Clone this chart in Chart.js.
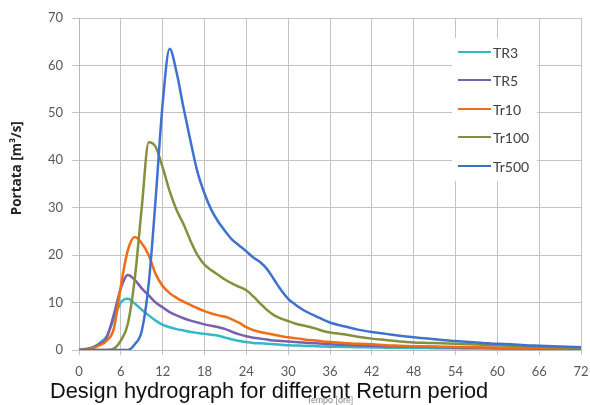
<!DOCTYPE html>
<html>
<head>
<meta charset="utf-8">
<script src="https://cdn.jsdelivr.net/npm/chart.js@4.4.1/dist/chart.umd.min.js"></script>
<style>
    body { margin: 0; background: #fff; }
    #wrap { position: relative; width: 590px; height: 405px; }
    #caption {
        position: absolute; left: 50px; top: 380px;
        font-family: "Liberation Sans", Arial, sans-serif;
        font-size: 21.8px; line-height: 1; color: #111; white-space: nowrap;
    }
</style>
</head>
<body>
<div id="wrap">
    <canvas id="hydroChart" width="590" height="405"></canvas>
    <div id="caption">Design hydrograph for different Return period</div>
</div>
<script>
// Time axis (hours) and discharge values
const hours = [0, 1, 2, 3, 4, 5, 6, 7, 8, 9, 10, 11, 12, 13, 14, 15, 16, 17, 18, 19,
    20, 21, 22, 23, 24, 25, 26, 27, 28, 29, 30, 31, 32, 33, 34, 35, 36,
    38, 40, 42, 44, 46, 48, 50, 52, 54, 56, 58, 60, 62, 64, 66, 68, 70, 72];

const tr3 = [0, 0.2, 0.6, 1.5, 3.0, 6.5, 10.0, 10.8, 9.8, 8.5, 7.3, 6.2, 5.3, 4.8, 4.4, 4.1, 3.8, 3.6, 3.4, 3.2,
    3.0, 2.6, 2.2, 1.9, 1.7, 1.5, 1.4, 1.3, 1.2, 1.1, 1.0, 0.95, 0.9, 0.85, 0.8, 0.75, 0.7,
    0.65, 0.6, 0.55, 0.5, 0.45, 0.42, 0.4, 0.37, 0.35, 0.32, 0.3, 0.28, 0.26, 0.24, 0.22, 0.2, 0.2, 0.2];

const tr5 = [0, 0.2, 0.5, 1.3, 2.7, 7.5, 13.0, 15.8, 14.8, 13.0, 11.5, 10.0, 9.0, 8.0, 7.3, 6.7, 6.2, 5.8, 5.4, 5.1,
    4.8, 4.4, 3.8, 3.3, 2.9, 2.6, 2.4, 2.2, 2.0, 1.9, 1.8, 1.7, 1.6, 1.5, 1.4, 1.3, 1.2,
    1.1, 1.0, 0.9, 0.8, 0.75, 0.7, 0.65, 0.6, 0.55, 0.5, 0.45, 0.4, 0.38, 0.35, 0.33, 0.3, 0.3, 0.3];

const tr10 = [0, 0.1, 0.4, 1.0, 2.0, 4.5, 13.5, 21.0, 23.8, 22.5, 20.0, 16.0, 13.5, 12.0, 11.0, 10.2, 9.5, 8.8, 8.2, 7.7,
    7.3, 7.0, 6.4, 5.7, 4.8, 4.2, 3.8, 3.5, 3.2, 2.9, 2.7, 2.5, 2.3, 2.1, 2.0, 1.8, 1.7,
    1.5, 1.3, 1.2, 1.0, 0.9, 0.8, 0.75, 0.7, 0.65, 0.6, 0.55, 0.5, 0.5, 0.45, 0.45, 0.4, 0.4, 0.4];

const tr100 = [0, 0, 0, 0, 0, 0.3, 2.0, 5.5, 15.0, 30.0, 43.8, 42.8, 38.5, 33.5, 29.5, 26.5, 23.0, 20.0, 18.0, 16.8,
    15.8, 14.8, 14.0, 13.3, 12.6, 11.3, 9.8, 8.4, 7.3, 6.6, 6.1, 5.6, 5.2, 4.9, 4.5, 4.0, 3.7,
    3.3, 2.8, 2.4, 2.1, 1.8, 1.6, 1.5, 1.4, 1.3, 1.2, 1.1, 1.0, 0.9, 0.8, 0.7, 0.6, 0.5, 0.5];

const tr500 = [0, 0, 0, 0, 0, 0, 0, 0, 1.2, 4.0, 14.0, 32.0, 52.0, 63.5, 58.5, 51.0, 44.0, 37.5, 33.0, 29.5,
    27.0, 25.0, 23.2, 22.0, 20.8, 19.5, 18.5, 17.0, 14.8, 12.6, 10.8, 9.6, 8.6, 7.8, 7.1, 6.4, 5.8,
    5.0, 4.3, 3.8, 3.4, 3.0, 2.7, 2.4, 2.1, 1.9, 1.7, 1.5, 1.3, 1.2, 1.0, 0.9, 0.8, 0.7, 0.6];

const seriesNames = ['TR3', 'TR5', 'Tr10', 'Tr100', 'Tr500'];
const seriesValues = [tr3, tr5, tr10, tr100, tr500];
const seriesColors = ['#35b8c6', '#7a5fae', '#f06c16', '#868f3e', '#3e72cf'];

function toPoints(values) {
    return values.map(function(v, i) { return { x: hours[i], y: v }; });
}

// Legend drawn inside the plot, on a white box, like the original
const boxLegend = {
    id: 'boxLegend',
    afterDatasetsDraw(chart) {
        const ctx = chart.ctx;
        const rowY = [52, 80, 109, 137, 166];
        ctx.save();
        ctx.fillStyle = '#ffffff';
        ctx.fillRect(452, 38, 85, 143);
        ctx.font = '14px Lato';
        ctx.textBaseline = 'middle';
        chart.data.datasets.forEach(function(ds, i) {
            ctx.strokeStyle = ds.borderColor;
            ctx.lineWidth = 2.2;
            ctx.beginPath();
            ctx.moveTo(458, rowY[i]);
            ctx.lineTo(491, rowY[i]);
            ctx.stroke();
            ctx.fillStyle = '#404040';
            ctx.fillText(ds.label, 493, rowY[i] + 1);
        });
        ctx.restore();
    }
};

const ctx = document.getElementById('hydroChart');

new Chart(ctx, {
    type: 'line',
    data: {
        datasets: seriesNames.map(function(name, i) {
            return {
                label: name,
                data: toPoints(seriesValues[i]),
                borderColor: seriesColors[i],
                backgroundColor: seriesColors[i],
                borderWidth: 2.5,
                pointRadius: 0,
                fill: false,
                cubicInterpolationMode: 'monotone',
                order: seriesNames.length - i
            };
        })
    },
    options: {
        responsive: false,
        animation: false,
        devicePixelRatio: 1,
        layout: {
            padding: { left: 0, right: 9, top: 18, bottom: 0 }
        },
        scales: {
            x: {
                type: 'linear',
                min: 0,
                max: 72,
                ticks: {
                    stepSize: 6,
                    color: '#595959',
                    font: { family: 'Lato', size: 13 },
                    padding: 9,
                    maxRotation: 0
                },
                grid: {
                    color: '#c4c4c4',
                    tickLength: 5
                },
                border: { color: '#b8b8b8' },
                title: {
                    display: true,
                    text: 'Tempo [ore]',
                    color: '#8a8a8a',
                    font: { family: 'Lato', size: 9 },
                    padding: { top: 4, bottom: 0 }
                },
                afterFit: function(scale) {
                    scale.height = 55;
                    // keep the plot edge where the original has it
                    scale.paddingLeft = 0;
                    scale.paddingRight = 0;
                }
            },
            y: {
                min: 0,
                max: 70,
                ticks: {
                    stepSize: 10,
                    color: '#595959',
                    font: { family: 'Lato', size: 13 },
                    padding: 9
                },
                grid: {
                    color: '#c4c4c4',
                    tickLength: 7
                },
                border: { color: '#b8b8b8' },
                title: {
                    display: true,
                    // leading spaces lift the label a little above the axis centre, as in the original
                    text: '         Portata [m³/s]',
                    color: '#262626',
                    font: { family: 'Open Sans', size: 13.5, weight: 'bold' },
                    padding: { top: 9, bottom: 0 }
                },
                afterFit: function(scale) { scale.width = 79; }
            }
        },
        plugins: {
            legend: { display: false },
            tooltip: { enabled: false }
        }
    },
    plugins: [boxLegend]
});
</script>
</body>
</html>
